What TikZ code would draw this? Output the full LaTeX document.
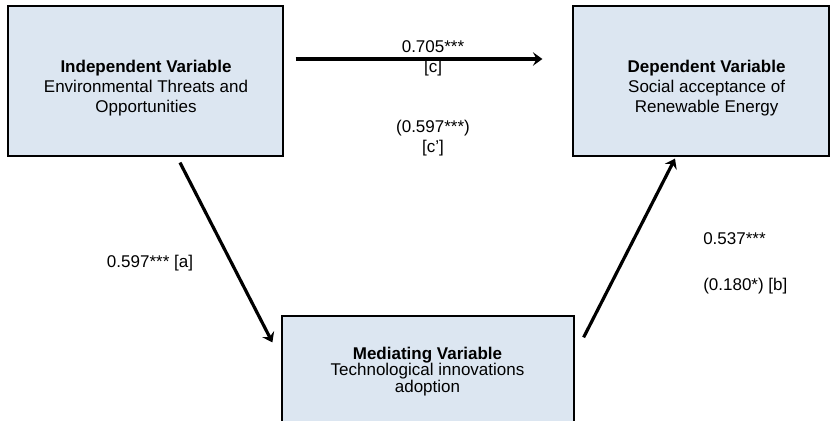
\documentclass[tikz,border=0pt]{standalone}
\usepackage{fontspec}
\setmainfont{Liberation Sans}
\usetikzlibrary{arrows.meta}
\definecolor{boxfill}{RGB}{220,230,241}

\begin{document}
\begin{tikzpicture}[x=0.75pt, y=-0.75pt,
    varbox/.style={draw=black, line width=0.9pt, fill=boxfill, inner sep=0pt},
    vartext/.style={align=center, inner sep=0pt, font=\fontsize{12.75}{15}\selectfont},
    coef/.style={anchor=base, inner sep=0pt, font=\fontsize{12.75}{15}\selectfont},
    pathline/.style={line width=2.4pt, -{Stealth[length=7pt,width=10pt,inset=2.5pt]}}]

\clip (0,0) rectangle (833,421);

\node[varbox, minimum width=206.25pt, minimum height=112.5pt] (indep) at (145.5,81) {};
\node[varbox, minimum width=192pt, minimum height=112.5pt] (dep) at (701,81) {};
\node[varbox, minimum width=219pt, minimum height=79.5pt] (med) at (428,369) {};

\node[vartext] (indeptext) at (146,88.6)
    {\textbf{Independent Variable}\\Environmental Threats and\\Opportunities};
\node[vartext] (deptext) at (706.6,88.6)
    {\textbf{Dependent Variable}\\Social acceptance of\\Renewable Energy};
\node[vartext, font=\fontsize{12.75}{12.4}\selectfont] (medtext) at (427.5,371.6)
    {\textbf{Mediating Variable}\\Technological innovations\\adoption};

\draw[pathline] ([shift={(12,-22)}]indep.east) -- ([shift={(-30,-22)}]dep.west);
\draw[pathline] ([shift={(34.5,6)}]indep.south) -- ([shift={(-9,27)}]med.north west);
\draw[pathline] ([shift={(9,22)}]med.north east) -- ([shift={(-26,2)}]dep.south);

\node[coef] (ctotal) at (433,52) {0.705***};
\node[coef] (clabel) at (433,72) {[c]};
\node[coef] (cdirect) at (433,132) {(0.597***)};
\node[coef] (cplabel) at (433,152) {[c']};
\node[coef] (apath) at (150,267.5) {0.597*** [a]};
\node[coef, anchor=base west] (bpath) at (703,244) {0.537***};
\node[coef, anchor=base west] (bdirect) at (703,290) {(0.180*) [b]};

\end{tikzpicture}
\end{document}
